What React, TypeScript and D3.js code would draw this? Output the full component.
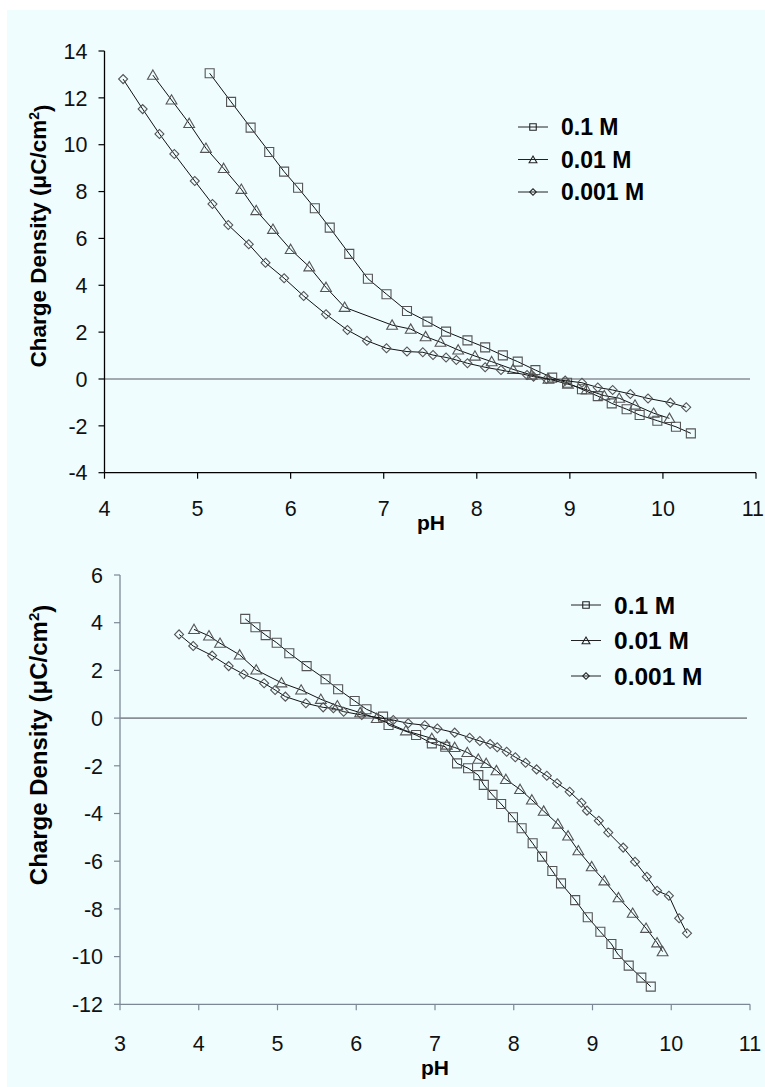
import React from "react";
import * as d3 from "d3";

// ---------- Data: top panel ----------
const topSeries01_pH = [5.13, 5.36, 5.57, 5.77, 5.93, 6.08, 6.26, 6.42, 6.63, 6.83, 7.03, 7.25, 7.47, 7.67, 7.90, 8.09, 8.28, 8.44, 8.63, 8.81, 8.97, 9.13, 9.30, 9.45, 9.61, 9.75, 9.94, 10.14, 10.30];
const topSeries01_q = [13.05, 11.83, 10.73, 9.69, 8.85, 8.16, 7.29, 6.46, 5.34, 4.28, 3.62, 2.90, 2.45, 2.02, 1.65, 1.35, 1.01, 0.74, 0.38, 0.06, -0.16, -0.44, -0.73, -1.04, -1.29, -1.54, -1.78, -2.04, -2.32];

const topSeries001_pH = [4.52, 4.72, 4.91, 5.09, 5.28, 5.47, 5.63, 5.81, 6.00, 6.20, 6.38, 6.58, 7.09, 7.29, 7.45, 7.61, 7.80, 7.98, 8.16, 8.39, 8.59, 8.77, 8.98, 9.18, 9.37, 9.53, 9.70, 9.90, 10.07];
const topSeries001_q = [12.97, 11.91, 10.91, 9.85, 8.99, 8.10, 7.19, 6.39, 5.53, 4.79, 3.91, 3.06, 2.30, 2.13, 1.81, 1.57, 1.24, 0.98, 0.74, 0.41, 0.17, 0.0, -0.22, -0.46, -0.71, -0.82, -1.11, -1.46, -1.68];

const topSeries0001_pH = [4.20, 4.41, 4.59, 4.75, 4.97, 5.16, 5.33, 5.55, 5.73, 5.93, 6.14, 6.38, 6.61, 6.82, 7.03, 7.25, 7.42, 7.53, 7.67, 7.78, 7.90, 8.09, 8.26, 8.54, 8.61, 8.75, 8.95, 9.13, 9.30, 9.46, 9.65, 9.84, 10.08, 10.25];
const topSeries0001_q = [12.80, 11.52, 10.46, 9.60, 8.45, 7.47, 6.57, 5.75, 4.96, 4.30, 3.54, 2.76, 2.09, 1.63, 1.31, 1.17, 1.14, 1.02, 0.92, 0.81, 0.67, 0.50, 0.38, 0.17, 0.10, 0.0, -0.07, -0.16, -0.36, -0.47, -0.64, -0.83, -1.01, -1.21];

// ---------- Data: bottom panel ----------
const botSeries01_pH = [4.59, 4.72, 4.85, 4.99, 5.15, 5.37, 5.61, 5.77, 5.98, 6.13, 6.34, 6.41, 6.76, 6.96, 7.13, 7.28, 7.42, 7.55, 7.62, 7.73, 7.84, 7.99, 8.10, 8.24, 8.36, 8.49, 8.60, 8.78, 8.94, 9.10, 9.24, 9.32, 9.46, 9.62, 9.74];
const botSeries01_q = [4.16, 3.81, 3.48, 3.16, 2.72, 2.18, 1.63, 1.21, 0.72, 0.37, 0.06, -0.29, -0.71, -1.06, -1.20, -1.90, -2.10, -2.39, -2.80, -3.22, -3.60, -4.16, -4.62, -5.25, -5.81, -6.41, -6.93, -7.63, -8.35, -8.96, -9.47, -9.89, -10.38, -10.88, -11.26];

const botSeries001_pH = [3.94, 4.13, 4.27, 4.52, 4.73, 5.05, 5.30, 5.55, 5.76, 6.05, 6.26, 6.63, 6.96, 7.15, 7.25, 7.41, 7.55, 7.65, 7.78, 7.90, 8.08, 8.23, 8.38, 8.56, 8.69, 8.82, 8.99, 9.15, 9.33, 9.51, 9.68, 9.82, 9.89];
const botSeries001_q = [3.72, 3.45, 3.14, 2.65, 2.02, 1.48, 1.18, 0.79, 0.52, 0.23, -0.01, -0.53, -0.85, -1.13, -1.23, -1.44, -1.72, -1.90, -2.20, -2.57, -2.99, -3.43, -3.90, -4.44, -4.94, -5.56, -6.23, -6.82, -7.53, -8.18, -8.81, -9.42, -9.79];

const botSeries0001_pH = [3.75, 3.93, 4.17, 4.38, 4.57, 4.83, 4.97, 5.10, 5.36, 5.58, 5.71, 5.84, 6.07, 6.47, 6.66, 6.87, 7.03, 7.25, 7.44, 7.57, 7.70, 7.79, 7.91, 8.02, 8.15, 8.29, 8.42, 8.55, 8.71, 8.86, 8.93, 9.08, 9.20, 9.39, 9.54, 9.69, 9.82, 9.97, 10.10, 10.20];
const botSeries0001_q = [3.51, 3.02, 2.62, 2.18, 1.84, 1.46, 1.18, 0.90, 0.62, 0.45, 0.41, 0.27, 0.13, -0.08, -0.22, -0.30, -0.44, -0.61, -0.82, -0.96, -1.09, -1.22, -1.41, -1.64, -1.87, -2.15, -2.42, -2.73, -3.09, -3.55, -3.88, -4.30, -4.80, -5.43, -6.02, -6.65, -7.24, -7.45, -8.39, -9.02];

const legendLabels = ["0.1 M", "0.01 M", "0.001 M"];
const markerTypes = ["square", "triangle", "diamond"];

const topXTicks = [4, 5, 6, 7, 8, 9, 10, 11];
const topYTicks = [14, 12, 10, 8, 6, 4, 2, 0, -2, -4];
const botXTicks = [3, 4, 5, 6, 7, 8, 9, 10, 11];
const botYTicks = [6, 4, 2, 0, -2, -4, -6, -8, -10, -12];

const FONT = "Arial, 'Liberation Sans', Helvetica, sans-serif";
const BG = "#effdff";
const W = 765;

function zip(xs: number[], ys: number[]) {
  return xs.map((x, i) => ({ x, y: ys[i] }));
}

function Marker({ type, x, y, size, color }: any) {
  let path = "";
  if (type === "square") {
    path = d3.symbol(d3.symbolSquare, size * size)() as string;
  } else if (type === "triangle") {
    path = d3.symbol(d3.symbolTriangle, size * size * 0.62)() as string;
    return <path d={path} transform={`translate(${x},${y + 1})`} fill="none" stroke={color} strokeWidth={1.1} />;
  } else {
    path = d3.symbol(d3.symbolSquare, size * size * 0.5)() as string;
    return <path d={path} transform={`translate(${x},${y}) rotate(45)`} fill="none" stroke={color} strokeWidth={1.1} />;
  }
  return <path d={path} transform={`translate(${x},${y})`} fill="none" stroke={color} strokeWidth={1.1} />;
}

function Panel(props: any) {
  const { xDomain, yDomain, xRange, yRange, xTicks, yTicks, series, axisColor, legendX, legendY, legendGap, legendFont, labelY, labelFont, pHX, pHY, tickLabelY, zeroEnd, markerSize, tickFont } = props;
  const x = d3.scaleLinear().domain(xDomain).range(xRange);
  const y = d3.scaleLinear().domain(yDomain).range(yRange);
  const line = d3.line<{ x: number; y: number }>().x((d) => x(d.x)).y((d) => y(d.y));
  const x0 = xRange[0];
  const yBottom = yRange[0];
  const yTop = yRange[1];
  const labelX = 38;
  return (
    <g>
      {/* zero line */}
      <line x1={x0} x2={zeroEnd} y1={y(0)} y2={y(0)} stroke="#8a8f96" strokeWidth={1.6} />
      {/* y axis */}
      <line x1={x0} x2={x0} y1={yTop} y2={yBottom} stroke={axisColor} strokeWidth={1.3} />
      {yTicks.map((t: number) => (
        <g key={"y" + t}>
          <line x1={x0 - 6} x2={x0} y1={y(t)} y2={y(t)} stroke={axisColor} strokeWidth={1.2} />
          <text x={x0 - 17} y={y(t)} dy="0.36em" textAnchor="end" fontFamily={FONT} fontSize={tickFont} fill="#111">
            {t}
          </text>
        </g>
      ))}
      {/* x axis */}
      <line x1={x0} x2={xRange[1]} y1={yBottom} y2={yBottom} stroke={axisColor} strokeWidth={1.3} />
      {xTicks.map((t: number) => {
        const half = String(t).length * tickFont * 0.28;
        const edge = x(t) + half > W - 1;
        return (
          <g key={"x" + t}>
            <line x1={x(t)} x2={x(t)} y1={yBottom} y2={yBottom + 6} stroke={axisColor} strokeWidth={1.2} />
            <text x={edge ? W - 1 : x(t)} y={tickLabelY} dy="0.36em" textAnchor={edge ? "end" : "middle"} fontFamily={FONT} fontSize={tickFont} fill="#111">
              {t}
            </text>
          </g>
        );
      })}
      <text x={pHX} y={pHY} dy="0.36em" textAnchor="middle" fontFamily={FONT} fontSize={21} fontWeight="bold" fill="#000">
        pH
      </text>
      <text transform={`translate(${labelX},${labelY}) rotate(-90)`} textAnchor="middle" dy="0.36em" fontFamily={FONT} fontSize={labelFont} fontWeight="bold" fill="#000">
        Charge Density (μC/cm<tspan dy="-0.5em" fontSize={labelFont * 0.62}>2</tspan>
        <tspan dy="0.5em">)</tspan>
      </text>
      {/* series */}
      {series.map((s: any, i: number) => (
        <g key={"s" + i}>
          <path d={line(s.data) as string} fill="none" stroke="#111" strokeWidth={1} />
          {s.data.map((d: any, j: number) => (
            <Marker key={j} type={markerTypes[i]} x={x(d.x)} y={y(d.y)} size={markerSize} color="#555" />
          ))}
        </g>
      ))}
      {/* legend */}
      {legendLabels.map((l, i) => (
        <g key={"l" + i} transform={`translate(${legendX},${legendY + i * legendGap})`}>
          <line x1={-15} x2={15} y1={0} y2={0} stroke="#222" strokeWidth={1} />
          <Marker type={markerTypes[i]} x={0} y={0} size={6.5} color="#222" />
          <text x={28} y={0} dy="0.36em" fontFamily={FONT} fontSize={legendFont} fontWeight="bold" fill="#000">
            {l}
          </text>
        </g>
      ))}
    </g>
  );
}

export default function App() {
  const topSeries = [
    { data: zip(topSeries01_pH, topSeries01_q) },
    { data: zip(topSeries001_pH, topSeries001_q) },
    { data: zip(topSeries0001_pH, topSeries0001_q) },
  ];
  const botSeries = [
    { data: zip(botSeries01_pH, botSeries01_q) },
    { data: zip(botSeries001_pH, botSeries001_q) },
    { data: zip(botSeries0001_pH, botSeries0001_q) },
  ];
  return (
    <svg width={765} height={1087} style={{ position: "absolute", left: 0, top: 0 }}>
      <rect x={0} y={0} width={765} height={1087} fill="#fff" />
      <rect x={7} y={10} width={758} height={1077} fill={BG} />
      <Panel
        xDomain={[4, 11]}
        xRange={[104.5, 756]}
        yDomain={[-4, 14]}
        yRange={[472.7, 51]}
        xTicks={topXTicks}
        yTicks={topYTicks}
        series={topSeries}
        axisColor="#000"
        legendX={533}
        legendY={127}
        legendGap={32.5}
        legendFont={23}
        labelY={236}
        labelFont={22.5}
        pHX={431}
        pHY={522}
        tickLabelY={508}
        zeroEnd={750}
        markerSize={9}
        tickFont={21.5}
      />
      <Panel
        xDomain={[3, 11]}
        xRange={[120, 750]}
        yDomain={[-12, 6]}
        yRange={[1004.3, 575]}
        xTicks={botXTicks}
        yTicks={botYTicks}
        series={botSeries}
        axisColor="#7d8896"
        legendX={586}
        legendY={605}
        legendGap={35.5}
        legendFont={24.5}
        labelY={745}
        labelFont={24}
        pHX={435}
        pHY={1067}
        tickLabelY={1043}
        zeroEnd={747}
        markerSize={9}
        tickFont={21.5}
      />
    </svg>
  );
}
